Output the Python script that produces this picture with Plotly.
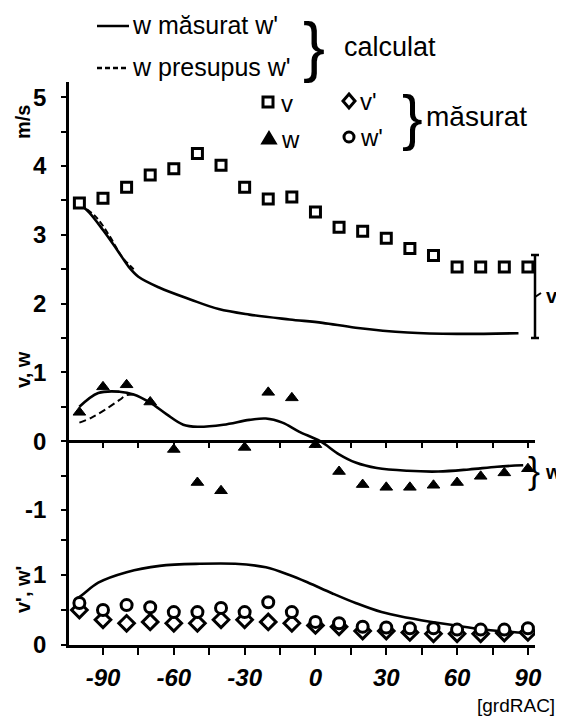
import plotly.graph_objects as go

# ---------------- data ----------------
deg = [-100, -90, -80, -70, -60, -50, -40, -30, -20, -10, 0, 10, 20, 30, 40, 50, 60, 70, 80, 90]

v_meas = [3.46, 3.53, 3.69, 3.87, 3.96, 4.18, 4.01, 3.69, 3.52, 3.55,
          3.33, 3.11, 3.05, 2.95, 2.80, 2.70, 2.53, 2.53, 2.53, 2.53]
w_meas = [0.42, 0.79, 0.82, 0.57, -0.12, -0.60, -0.72, -0.09, 0.71, 0.63,
          -0.05, -0.44, -0.63, -0.67, -0.67, -0.64, -0.60, -0.51, -0.46, -0.40]
wp_meas = [0.60, 0.50, 0.57, 0.54, 0.47, 0.47, 0.53, 0.47, 0.61, 0.47,
           0.33, 0.31, 0.26, 0.25, 0.24, 0.24, 0.22, 0.22, 0.22, 0.24]
vp_meas = [0.50, 0.36, 0.31, 0.33, 0.31, 0.31, 0.36, 0.36, 0.33, 0.31,
           0.28, 0.26, 0.20, 0.20, 0.18, 0.16, 0.16, 0.16, 0.17, 0.18]

v_calc_x = [-100, -96, -90, -84, -79, -75, -66, -53, -41, -28, -11, 3, 17, 39, 60, 86]
v_calc = [3.45, 3.33, 3.07, 2.78, 2.53, 2.39, 2.23, 2.06, 1.92, 1.84, 1.77, 1.72, 1.65, 1.58, 1.56, 1.57]
v_pres_x = [-100, -93, -87, -82, -77]
v_pres = [3.45, 3.26, 2.97, 2.68, 2.50]

w_calc_x = [-100, -92, -83, -77, -70, -63, -56, -50, -39, -28, -21, -14, -7, 2, 10, 17, 26, 39, 52, 65, 77, 88]
w_calc = [0.50, 0.70, 0.72, 0.68, 0.56, 0.39, 0.24, 0.21, 0.24, 0.31, 0.33, 0.27, 0.14, 0.0,
          -0.19, -0.31, -0.39, -0.43, -0.44, -0.41, -0.37, -0.35]
w_pres_x = [-100, -95, -89, -83, -80, -77]
w_pres = [0.27, 0.34, 0.46, 0.60, 0.67, 0.68]

wp_calc_x = [-102, -99, -92, -80, -66, -49, -34, -21, -11, -3, 7, 17, 28, 39, 53, 67, 81, 91]
wp_calc = [0.64, 0.71, 0.89, 1.04, 1.13, 1.16, 1.16, 1.11, 1.00, 0.89, 0.74, 0.60, 0.47, 0.39,
           0.31, 0.24, 0.19, 0.17]

x_tickvals = [-90, -75, -60, -45, -30, -15, 0, 15, 30, 45, 60, 75, 90]
x_ticktext = ["-90", "", "-60", "", "-30", "", "0", "", "30", "", "60", "", "90"]
y_top_tickvals = [-1, -0.5, 0, 0.5, 1, 1.5, 2, 2.5, 3, 3.5, 4, 4.5, 5]
y_top_ticktext = ["-1", "", "0", "", "1", "", "2", "", "3", "", "4", "", "5"]
y_bot_tickvals = [0, 0.5, 1, 1.5]
y_bot_ticktext = ["0", "", "1", ""]

# ---------------- layout geometry (reference pixel frame) ----------------
PAGE = 8                      # browser body margin
W, H = 564 - PAGE, 720 - PAGE
L, R, T, B = 69, 535, 82, 645  # plot area in the reference picture


def px(x):
    return (x - L) / (R - L)


def py(y):
    return (B - y) / (B - T)


split = py(530)
BLACK = "black"
FONT = "Liberation Sans"

fig = go.Figure()

# calculated lines
fig.add_trace(go.Scatter(x=v_calc_x, y=v_calc, mode="lines", line=dict(color=BLACK, width=2.6, shape="spline"),
                         xaxis="x", yaxis="y", showlegend=False))
fig.add_trace(go.Scatter(x=v_pres_x, y=v_pres, mode="lines", line=dict(color=BLACK, width=2, dash="6px,3px", shape="spline"),
                         xaxis="x", yaxis="y", showlegend=False))
fig.add_trace(go.Scatter(x=w_calc_x, y=w_calc, mode="lines", line=dict(color=BLACK, width=2.6, shape="spline"),
                         xaxis="x", yaxis="y", showlegend=False))
fig.add_trace(go.Scatter(x=w_pres_x, y=w_pres, mode="lines", line=dict(color=BLACK, width=2, dash="7px,4px", shape="spline"),
                         xaxis="x", yaxis="y", showlegend=False))
fig.add_trace(go.Scatter(x=wp_calc_x, y=wp_calc, mode="lines", line=dict(color=BLACK, width=2.6, shape="spline"),
                         xaxis="x", yaxis="y2", showlegend=False))

# measured markers
fig.add_trace(go.Scatter(x=deg, y=v_meas, mode="markers",
                         marker=dict(symbol="square", size=10, color="white", line=dict(color=BLACK, width=3)),
                         xaxis="x", yaxis="y", showlegend=False))
fig.add_trace(go.Scatter(x=deg, y=w_meas, mode="markers",
                         marker=dict(symbol="triangle-up", size=11, color=BLACK, line=dict(color=BLACK, width=1)),
                         xaxis="x", yaxis="y", showlegend=False))
fig.add_trace(go.Scatter(x=deg, y=vp_meas, mode="markers",
                         marker=dict(symbol="diamond", size=12, color="white", line=dict(color=BLACK, width=3)),
                         xaxis="x", yaxis="y2", showlegend=False))
fig.add_trace(go.Scatter(x=deg, y=wp_meas, mode="markers",
                         marker=dict(symbol="circle", size=11, color="white", line=dict(color=BLACK, width=3)),
                         xaxis="x", yaxis="y2", showlegend=False))
# invisible trace to carry the tick axis drawn along the zero line
fig.add_trace(go.Scatter(x=[deg[0]], y=[0], mode="markers", marker=dict(opacity=0),
                         xaxis="x2", yaxis="y", showlegend=False, hoverinfo="skip"))

xr = [-104.4, 93.0]
tickfont = dict(family=FONT, size=24, color=BLACK, weight="bold")

fig.update_layout(
    width=W, height=H, autosize=False,
    margin=dict(l=L - PAGE, r=564 - R, t=T - PAGE, b=720 - B, pad=0),
    paper_bgcolor="white", plot_bgcolor="white",
    font=dict(family=FONT, color=BLACK),
    xaxis=dict(range=xr, domain=[0, 1], anchor="y2", showgrid=False, zeroline=False,
               showline=True, linecolor=BLACK, linewidth=2.5,
               ticks="outside", ticklen=7, tickwidth=2, tickcolor=BLACK,
               tickvals=x_tickvals, ticktext=x_ticktext, tickfont=dict(tickfont, style="italic"),
               ticklabelstandoff=2),
    xaxis2=dict(range=xr, overlaying="x", matches="x", anchor="free", position=py(441.6),
                showgrid=False, zeroline=False, showline=False, showticklabels=False,
                ticks="outside", ticklen=5, tickwidth=2, tickcolor=BLACK, tickvals=x_tickvals),
    yaxis=dict(range=[-1.29, 5.22], domain=[split, 1], anchor="x", showgrid=False,
               zeroline=True, zerolinecolor=BLACK, zerolinewidth=2.5,
               showline=True, linecolor=BLACK, linewidth=2.5,
               ticks="outside", ticklen=5, tickwidth=2, tickcolor=BLACK,
               tickvals=y_top_tickvals, ticktext=y_top_ticktext, tickfont=tickfont,
               ticklabelstandoff=10),
    yaxis2=dict(range=[0, (B - 530) / 70.0], domain=[0, split], anchor="x", showgrid=False,
                zeroline=False, showline=True, linecolor=BLACK, linewidth=2.5,
                ticks="outside", ticklen=5, tickwidth=2, tickcolor=BLACK,
                tickvals=y_bot_tickvals, ticktext=y_bot_ticktext, tickfont=tickfont,
                ticklabelstandoff=10),
)

ann = []


def text(x, y, s, size=18, xanchor="left", angle=0, bold=False, family=FONT):
    ann.append(dict(x=px(x), y=py(y), xref="paper", yref="paper", text=s, showarrow=False,
                    xanchor=xanchor, yanchor="middle", textangle=angle,
                    font=dict(family=family, size=size, color=BLACK, weight="bold" if bold else "normal")))


# legend texts
text(130, 25, "w măsurat w'", 25)
text(130, 67, "w presupus w'", 25)
text(314, 46, "}", 66, xanchor="center")
text(342, 47, "calculat", 27)
text(279, 103, "v", 24)
text(358, 101, "v'", 24)
text(279, 139, "w", 24)
text(358, 137, "w'", 24)
text(412, 117, "}", 62, xanchor="center")
text(424, 116, "măsurat", 28)
# axis titles
text(23, 122, "m/s", 20, xanchor="center", angle=-90, bold=True)
text(23, 370, "v, w", 20, xanchor="center", angle=-90, bold=True)
text(23, 590, "v', w'", 20, xanchor="center", angle=-90, bold=True)
# right bracket labels
text(544, 296, "v", 20, bold=True)
text(534, 470, "}", 36, xanchor="center")
text(543, 472, "w", 20, bold=True)
# source
text(557, 705, "[grdRAC]", 19, xanchor="right")

shapes = []


def seg(x0, y0, x1, y1, width=2.5, dash=None):
    shapes.append(dict(type="line", xref="paper", yref="paper", x0=px(x0), y0=py(y0), x1=px(x1), y1=py(y1),
                       line=dict(color=BLACK, width=width, dash=dash)))


def path(points, fill):
    d = "M " + " L ".join(f"{px(a):.5f},{py(b):.5f}" for a, b in points) + " Z"
    shapes.append(dict(type="path", xref="paper", yref="paper", path=d,
                       fillcolor=fill, line=dict(color=BLACK, width=3)))


# legend line samples
seg(97, 26, 129, 26, 2.5)
seg(97, 68, 129, 68, 2.5, dash="5px,3px")
# legend marker samples
path([(263, 97), (273, 97), (273, 107), (263, 107)], "white")
path([(349, 94), (355, 101), (349, 108), (343, 101)], "white")
path([(263, 143), (275, 143), (269, 133)], BLACK)
shapes.append(dict(type="circle", xref="paper", yref="paper", x0=px(344), x1=px(354), y0=py(132), y1=py(142),
                   fillcolor="white", line=dict(color=BLACK, width=3)))
# v bracket on the right
seg(535, 255, 535, 338, 2.5)
seg(531, 255, 539, 255, 2.5)
seg(531, 338, 539, 338, 2.5)
seg(535, 297, 541, 293, 2)

fig.update_layout(annotations=ann, shapes=shapes)
fig.write_html("out.html")
